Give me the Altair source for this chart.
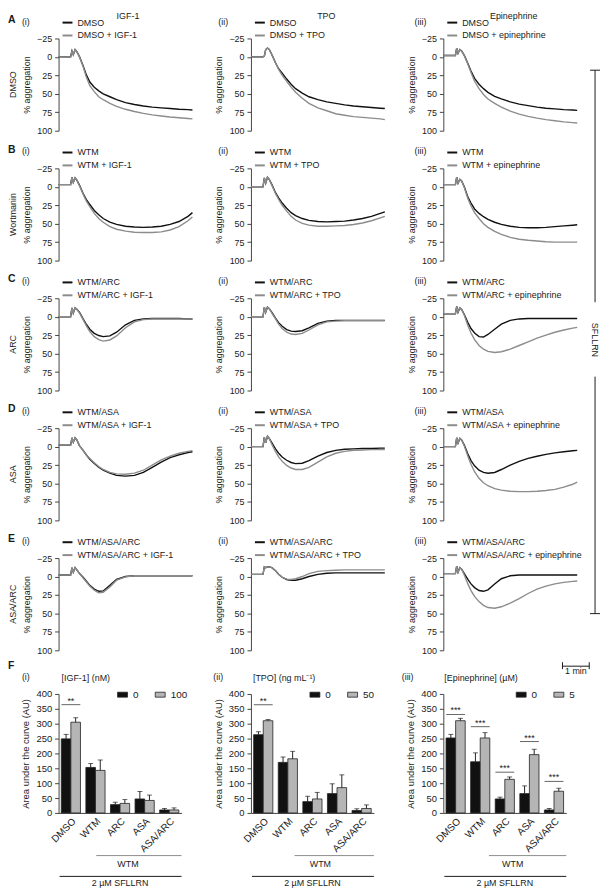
import altair as alt
import pandas as pd

FONT = "Liberation Sans"
BLACK = "#111111"
GRAY = "#8c8c8c"
LIGHT = "#b5b5b5"
AXIS = "#444444"
TXT = "#1a1a1a"

# ---------------- trace data (time in s, % aggregation) ----------------
T = [0, 27, 30, 33, 37, 41, 47, 55, 62, 70, 80, 90, 100, 115, 130, 150, 170, 190, 210, 230, 250, 270, 290, 300]

a_i_ctrl = [0, 0, -8, -3, -10, -7, 0, 12, 24, 34, 41, 46, 50, 54, 58, 62, 64.5, 66.5, 68, 69, 70, 71, 71.5, 72]
a_i_drug = [0, 0, -8, -3, -10, -7, 0, 13, 27, 39, 47, 54, 58, 63, 67, 71, 74, 76.5, 78.5, 80, 81.5, 82.5, 83.5, 84]
a_ii_ctrl = [0, 0, -1, -10, -12, -10, -3, 8, 16, 22, 30, 37, 43, 49, 54, 58, 61, 63, 65, 66.5, 67.5, 68.5, 69.5, 70]
a_ii_drug = [0, 0, -1, -10, -12, -10, -3, 8, 17, 25, 33, 41, 48, 56, 63, 69, 73, 77, 79, 81, 82, 83, 84, 85]
a_iii_ctrl = [-2, -2, -12, -5, -10, -8, -2, 9, 19, 29, 37, 43, 48, 53.5, 57, 61, 64, 66, 68, 69.5, 70.5, 71.5, 72, 72.5]
a_iii_drug = [-2, -2, -12, -5, -10, -8, -2, 10, 21, 33, 43, 51, 57, 63, 68, 73.5, 77.5, 80.5, 83, 85, 86.5, 88, 89, 89.5]

b_i_ctrl = [-3, -3, -13, -6, -12, -9, -2, 9, 17, 24, 32, 38, 43, 48, 51, 53.5, 54.5, 55, 54.5, 53.5, 51, 47, 40, 35]
b_i_drug = [-3, -3, -13, -6, -12, -9, -1, 10, 19, 27, 36, 43, 48, 54, 57.5, 60, 61.5, 62, 62, 61, 58.5, 54, 46, 41]
b_ii_ctrl = [0, 0, -12, -5, -13, -10, -3, 8, 15, 22, 29, 35, 39, 43, 45.5, 47, 47.5, 47, 46.5, 45, 43, 40, 36, 34]
b_ii_drug = [0, 0, -12, -5, -13, -10, -2, 9, 17, 25, 33, 40, 45, 49.5, 52, 53.5, 53.5, 53, 52.5, 51, 49, 46, 42, 40]
b_iii_ctrl = [-3, -3, -13, -5, -10, -8, 0, 14, 22, 30, 36, 40.5, 44, 48, 51, 53.5, 55, 55.5, 55.5, 55, 54, 53, 52, 51.5]
b_iii_drug = [-3, -3, -13, -5, -10, -8, 1, 16, 26, 35, 43, 50, 55, 60.5, 64.5, 68.5, 71, 72.5, 73.5, 74.5, 75, 75, 75, 75]

c_i_ctrl = [0, 0, -12, -5, -12, -10, -6, 3, 10, 17, 22.5, 25.5, 27, 26, 21, 11, 5, 3, 2.5, 2.5, 2.5, 2.5, 3, 3]
c_i_drug = [0, 0, -12, -5, -12, -10, -5, 4, 12, 20, 27, 31, 33, 31.5, 26, 15, 7, 4, 3, 3, 3, 3, 3, 3]
c_ii_ctrl = [0, 0, -13, -6, -13, -11, -6, 2, 8, 13, 17.5, 19.5, 20, 19, 15, 9, 6, 5, 5, 5, 5, 5, 5, 5]
c_ii_drug = [0, 0, -13, -6, -13, -11, -5, 3, 10, 16, 21, 23.5, 24, 22.5, 18, 11, 7, 6, 5.5, 5.5, 5.5, 5.5, 5.5, 5.5]
c_iii_ctrl = [-4, -4, -14, -6, -12, -10, -3, 8, 16, 22, 27, 27.5, 24, 17, 10, 5, 3, 2.5, 2.5, 2.5, 2.5, 2.5, 2.5, 2.5]
c_iii_drug = [-4, -4, -14, -6, -12, -10, -2, 12, 22, 31, 39, 44, 47, 48.5, 47.5, 44, 39, 34, 29, 25, 21, 18, 15.5, 14.5]

d_i_ctrl = [-2, -2, -12, -6, -12, -9, -1, 5, 11, 17, 23, 28, 32, 36, 39, 40, 39, 35, 28, 21, 15, 11, 8, 7]
d_i_drug = [-2, -2, -12, -6, -12, -9, -1, 5, 11, 16, 22, 27, 31, 35, 37, 37.5, 36, 32, 25, 18, 13, 9, 6.5, 5.5]
d_ii_ctrl = [0, 0, -13, -5, -14, -11, -5, 3, 9, 14, 18.5, 21.5, 23, 22.5, 19, 13, 8, 5, 3.5, 3, 2.5, 2.5, 2, 2]
d_ii_drug = [0, 0, -13, -5, -14, -11, -3, 7, 14, 20, 25.5, 29, 31, 31, 28, 21, 14, 9, 6.5, 5, 4.5, 4, 4, 4]
d_iii_ctrl = [0, 0, -12, -5, -11, -9, -2, 10, 19, 26, 32, 35, 36, 35, 31, 25, 20, 16, 13, 10.5, 8.5, 7, 5.5, 5]
d_iii_drug = [0, 0, -12, -5, -11, -9, -1, 13, 24, 34, 43, 49, 53, 57, 59, 60.5, 61, 61, 60.5, 59.5, 58, 55, 51, 48]

e_i_ctrl = [-2, -2, -12, -6, -12, -9, -4, 1, 6, 12, 17, 20, 19.5, 12, 4, 0, -1, -1, -1, -1, -1, -1, -1, -1]
e_i_drug = [-2, -2, -12, -6, -12, -9, -4, 2, 7, 13, 18.5, 22, 21.5, 14, 5, 0.5, -1, -1, -1, -1, -1, -1, -1, -1]
e_ii_ctrl = [-3, -3, -13, -12, -13, -13, -12, -8, -3, 1, 4, 5, 5, 3, 0, -3, -4.5, -5, -5, -5, -5, -5, -5, -5]
e_ii_drug = [-3, -3, -13, -12, -13, -13, -12, -8, -3, 1, 3.5, 4, 3, 0, -4, -7, -8, -8.5, -9, -9, -9, -9, -9, -9]
e_iii_ctrl = [-4, -4, -14, -6, -12, -10, -4, 4, 10, 15, 19, 20, 18, 10, 3, -1, -2, -2, -2, -2, -2, -2, -2, -2]
e_iii_drug = [-4, -4, -14, -6, -12, -10, -2, 10, 19, 27, 34, 39, 42, 43, 41, 36, 30, 23, 17, 13, 10, 8, 6.5, 6]

traces = [
    [(a_i_ctrl, a_i_drug), (a_ii_ctrl, a_ii_drug), (a_iii_ctrl, a_iii_drug)],
    [(b_i_ctrl, b_i_drug), (b_ii_ctrl, b_ii_drug), (b_iii_ctrl, b_iii_drug)],
    [(c_i_ctrl, c_i_drug), (c_ii_ctrl, c_ii_drug), (c_iii_ctrl, c_iii_drug)],
    [(d_i_ctrl, d_i_drug), (d_ii_ctrl, d_ii_drug), (d_iii_ctrl, d_iii_drug)],
    [(e_i_ctrl, e_i_drug), (e_ii_ctrl, e_ii_drug), (e_iii_ctrl, e_iii_drug)],
]

row_letters = ["A", "B", "C", "D", "E"]
row_names = ["DMSO", "Wortmanin", "ARC", "ASA", "ASA/ARC"]
row_ctrl = ["DMSO", "WTM", "WTM/ARC", "WTM/ASA", "WTM/ASA/ARC"]
col_titles = ["IGF-1", "TPO", "Epinephrine"]
col_drug = ["IGF-1", "TPO", "epinephrine"]
col_roman = ["(i)", "(ii)", "(iii)"]
trace_ticks = [-25, 0, 25, 50, 75, 100]
scale_bar_start = 267
scale_bar_len = 60
scale_bar_label = "1 min"
bracket_label = "SFLLRN"

# ---------------- bar data (area under the curve, AU) ----------------
bar_groups = ["DMSO", "WTM", "ARC", "ASA", "ASA/ARC"]
bar_doses = [["0", "100"], ["0", "50"], ["0", "5"]]
bar_titles = ["[IGF-1] (nM)", "[TPO] (ng mL\u207b\u00b9)", "[Epinephrine] (\u00b5M)"]
bar_ticks = [0, 50, 100, 150, 200, 250, 300, 350, 400]

igf_mean_0 = [249, 153, 28, 47, 10]
igf_err_0 = [15, 13, 8, 25, 5]
igf_mean_hi = [305, 143, 32, 42, 10]
igf_err_hi = [15, 35, 13, 18, 7]

tpo_mean_0 = [263, 170, 38, 65, 8]
tpo_err_0 = [10, 18, 18, 33, 6]
tpo_mean_hi = [310, 182, 47, 85, 15]
tpo_err_hi = [4, 25, 22, 43, 12]

epi_mean_0 = [252, 172, 47, 65, 10]
epi_err_0 = [12, 30, 6, 26, 5]
epi_mean_hi = [310, 252, 113, 196, 73]
epi_err_hi = [8, 18, 8, 18, 10]

bar_means = [(igf_mean_0, igf_mean_hi), (tpo_mean_0, tpo_mean_hi), (epi_mean_0, epi_mean_hi)]
bar_errs = [(igf_err_0, igf_err_hi), (tpo_err_0, tpo_err_hi), (epi_err_0, epi_err_hi)]

sig_groups = [["DMSO"], ["DMSO"], ["DMSO", "WTM", "ARC", "ASA", "ASA/ARC"]]
sig_levels = [[364], [364], [331, 290, 137, 240, 106]]
sig_labels = [["**"], ["**"], ["***", "***", "***", "***", "***"]]

# ---------------- layout / style ----------------
PW, PH = 135, 93
BW, BH = 124, 120
ROW_PITCH = 131
BAR_OFFSET = 661
roman_x = [-37, -33, -29]
title_x = [70, 76, 71]
bar_roman_x = [-37, -38, -42]
bar_title_x = [3, 2, 1]
bar_legend_x = [59, 59, 73]
wtm_x1 = [38, 44, 46]


def one():
    return pd.DataFrame({"k": [0]})


def txt(s, x, y, size=9, bold=False, align="left", angle=0, baseline="middle"):
    kw = dict(align=align, baseline=baseline, fontSize=size, font=FONT, color=TXT)
    if bold:
        kw["fontWeight"] = "bold"
    if angle:
        kw["angle"] = angle
    return alt.Chart(pd.DataFrame({"s": [s]})).mark_text(**kw).encode(
        text="s:N", x=alt.value(x), y=alt.value(y))


def hrule(x1, x2, y, color=TXT, w=1.0):
    return alt.Chart(one()).mark_rule(color=color, strokeWidth=w).encode(
        x=alt.value(x1), x2=alt.value(x2), y=alt.value(y))


def vrule(x, y1, y2, color=TXT, w=1.0):
    return alt.Chart(one()).mark_rule(color=color, strokeWidth=w).encode(
        x=alt.value(x), y=alt.value(y1), y2=alt.value(y2))


def trace_panel(r, c):
    ctrl, drug = traces[r][c]
    lab_c = row_ctrl[r]
    lab_d = f"{row_ctrl[r]} + {col_drug[c]}"
    df = pd.DataFrame({"t": T + T, "v": ctrl + drug,
                       "s": [lab_c] * len(T) + [lab_d] * len(T)})
    lines = alt.Chart(df).mark_line(strokeWidth=1.4).encode(
        x=alt.X("t:Q", scale=alt.Scale(domain=[0, 300], nice=False, zero=False), axis=None),
        y=alt.Y("v:Q", scale=alt.Scale(domain=[-25, 100], reverse=True, nice=False, zero=False),
                axis=alt.Axis(values=trace_ticks, title="% aggregation", titleFontSize=9,
                              titleFontWeight="normal", titlePadding=5, labelFontSize=9,
                              tickSize=4, labelPadding=3, domainColor=AXIS, tickColor=AXIS,
                              labelColor=TXT, titleColor=TXT, grid=False)),
        color=alt.Color("s:N", scale=alt.Scale(domain=[lab_c, lab_d], range=[BLACK, GRAY]),
                        legend=alt.Legend(orient="none", legendX=3, legendY=-22, title=None,
                                          direction="vertical", symbolType="stroke",
                                          symbolSize=100, symbolStrokeWidth=2,
                                          labelFontSize=9, labelOffset=4, rowPadding=2,
                                          labelLimit=400, padding=0, labelColor=TXT)),
    )
    layers = [lines, txt(col_roman[c], roman_x[c], -17)]
    if r == 0:
        layers.append(txt(col_titles[c], title_x[c], -22.5, align="center"))
    if c == 0:
        layers.append(txt(row_letters[r], -51, -19, size=10.5, bold=True))
        layers.append(txt(row_names[r], -46, PH / 2, angle=270, align="center"))
    if r == 0 and c == 2:
        layers += [
            vrule(153, 32, 266), hrule(148, 158, 32),
            txt(bracket_label, 153, 304, angle=90, align="center"),
            vrule(153, 341, 580), hrule(148, 158, 580),
        ]
    if r == 4 and c == 2:
        base = alt.Chart(one())
        layers += [
            base.mark_rule(color=TXT, strokeWidth=1).encode(
                x=alt.XDatum(scale_bar_start, axis=None),
                x2=alt.X2Datum(scale_bar_start + scale_bar_len), y=alt.value(109)),
            base.mark_rule(color=TXT, strokeWidth=1).encode(
                x=alt.XDatum(scale_bar_start, axis=None), y=alt.value(105), y2=alt.value(112)),
            base.mark_rule(color=TXT, strokeWidth=1).encode(
                x=alt.XDatum(scale_bar_start + scale_bar_len, axis=None), y=alt.value(105),
                y2=alt.value(112)),
            alt.Chart(pd.DataFrame({"s": [scale_bar_label]})).mark_text(
                fontSize=9, font=FONT, color=TXT, baseline="top", align="center").encode(
                text="s:N", x=alt.XDatum(scale_bar_start + scale_bar_len / 2, axis=None),
                y=alt.value(110)),
        ]
    return alt.layer(*layers).properties(width=PW, height=PH)


def bar_panel(c):
    doses = bar_doses[c]
    means = bar_means[c]
    errs = bar_errs[c]
    rows = []
    for gi, g in enumerate(bar_groups):
        for di, d in enumerate(doses):
            m = means[di][gi]
            rows.append({"g": g, "d": d, "m": m, "top": m + errs[di][gi]})
    df = pd.DataFrame(rows)
    sig = pd.DataFrame({"g": sig_groups[c], "y": sig_levels[c], "lab": sig_labels[c]})

    xenc = alt.X("g:N", sort=bar_groups,
                 scale=alt.Scale(domain=bar_groups, paddingInner=0.22, paddingOuter=0.11),
                 axis=alt.Axis(title=None, labelAngle=-45, ticks=False, labelFontSize=10,
                               labelPadding=3, domainColor=AXIS, labelColor=TXT, grid=False))
    xoff = alt.XOffset("d:N", sort=doses, scale=alt.Scale(domain=doses))

    def yenc(field):
        return alt.Y(field, scale=alt.Scale(domain=[0, 400], nice=False),
                     axis=alt.Axis(values=bar_ticks, title="Area under the curve (AU)",
                                   titleFontSize=9.5, titleFontWeight="normal", titlePadding=5,
                                   labelFontSize=9.5, tickSize=4, labelPadding=3,
                                   domainColor=AXIS, tickColor=AXIS, labelColor=TXT,
                                   titleColor=TXT, grid=False))

    bars = alt.Chart(df).mark_bar(stroke="#222222", strokeWidth=0.8).encode(
        x=xenc, xOffset=xoff, y=yenc("m:Q"),
        color=alt.Color("d:N", scale=alt.Scale(domain=doses, range=[BLACK, LIGHT]),
                        legend=alt.Legend(orient="none", legendX=bar_legend_x[c], legendY=-5,
                                          direction="horizontal", title=None,
                                          symbolType="M-1,-0.5H1V0.5H-1Z", symbolSize=100,
                                          symbolStrokeColor="#222222", symbolStrokeWidth=0.8,
                                          labelFontSize=10, labelOffset=5, columnPadding=14,
                                          padding=0, labelColor=TXT)))
    err = alt.Chart(df).mark_rule(color="#222222", strokeWidth=1).encode(
        x=xenc, xOffset=xoff, y=yenc("m:Q"), y2="top:Q")
    caps = alt.Chart(df).mark_tick(color="#222222", thickness=1, size=5).encode(
        x=xenc, xOffset=xoff, y=yenc("top:Q"))
    sig_line = alt.Chart(sig).mark_tick(color="#222222", thickness=1, size=19).encode(
        x=xenc, y=yenc("y:Q"))
    sig_txt = alt.Chart(sig).mark_text(fontSize=9, font=FONT, color=TXT, dy=-4).encode(
        x=xenc, y=yenc("y:Q"), text="lab:N")

    layers = [bars, err, caps, sig_line, sig_txt,
              txt(col_roman[c], bar_roman_x[c], -17),
              txt(bar_titles[c], bar_title_x[c], -16),
              hrule(wtm_x1[c], BW, BH + 43, GRAY),
              txt("WTM", 70, BH + 52, align="center"),
              hrule(1, BW, BH + 64, TXT),
              txt("2 \u00b5M SFLLRN", BW / 2, BH + 71, align="center")]
    if c == 0:
        layers.append(txt("F", -51, -28, size=10.5, bold=True))
    return alt.layer(*layers).properties(width=BW, height=BH)


res = dict(color="independent", x="independent", y="independent")
# With flush bounds, nested concats count as zero-size, so spacing is the pitch.
rows = [alt.hconcat(*[trace_panel(r, c) for c in range(3)], spacing=59, bounds="flush")
        .resolve_scale(**res) for r in range(5)]
grid = alt.vconcat(*rows, spacing=ROW_PITCH, bounds="flush").resolve_scale(**res)
bars_row = alt.hconcat(*[bar_panel(c) for c in range(3)], spacing=70, bounds="flush") \
    .resolve_scale(xOffset="independent", **res)

chart = alt.vconcat(grid, bars_row, spacing=BAR_OFFSET, bounds="flush", padding=0) \
    .resolve_scale(**res) \
    .configure(font=FONT) \
    .configure_view(stroke=None) \
    .configure_axis(grid=False, labelFont=FONT, titleFont=FONT) \
    .configure_legend(labelFont=FONT)

chart.save("out.html", embed_options={"renderer": "svg", "actions": False})
